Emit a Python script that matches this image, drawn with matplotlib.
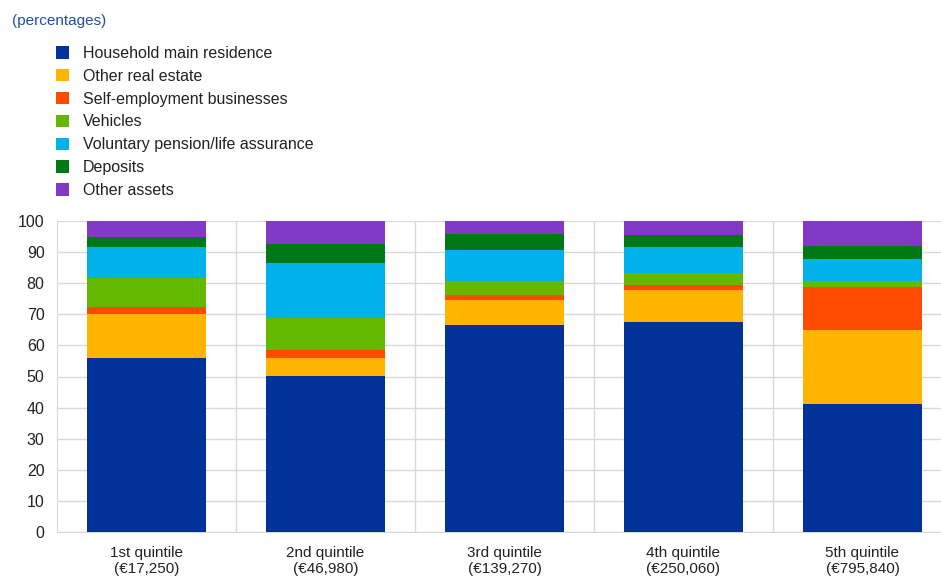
import matplotlib
matplotlib.use("Agg")
import matplotlib.pyplot as plt
import numpy as np

plt.rcParams['font.family'] = ['Liberation Sans', 'DejaVu Sans']

# quintile labels
quintiles = ["1st quintile\n(€17,250)", "2nd quintile\n(€46,980)", "3rd quintile\n(€139,270)",
             "4th quintile\n(€250,060)", "5th quintile\n(€795,840)"]

# shares of assets (percentages)
main_residence = [55.9, 50.3, 66.5, 67.5, 41.1]
other_real_estate = [14.2, 5.6, 8.2, 10.2, 23.9]
self_employment = [2.2, 2.5, 1.6, 1.8, 13.9]
vehicles = [9.3, 10.5, 4.5, 3.7, 1.9]
pension = [10.0, 17.6, 10.0, 8.5, 6.9]
deposits = [3.3, 6.1, 5.1, 3.7, 4.4]
other_assets = [5.1, 7.4, 4.1, 4.6, 7.9]

labels = ["Household main residence", "Other real estate", "Self-employment businesses",
          "Vehicles", "Voluntary pension/life assurance", "Deposits", "Other assets"]
colours = ["#003299", "#FFB400", "#FF4B00", "#65B800", "#00B1EA", "#007816", "#8139C6"]
series = [main_residence, other_real_estate, self_employment, vehicles, pension, deposits, other_assets]

fig = plt.figure(figsize=(9.41, 5.78), dpi=100)
ax = fig.add_axes([57/941, 46/578, 1 - 57/941, (532-221)/578])

x = np.arange(len(quintiles))
bottom = np.zeros(len(quintiles))
handles = []
for vals, col, lab in zip(series, colours, labels):
    b = ax.bar(x, vals, 0.665, bottom=bottom, color=col, label=lab, zorder=3)
    handles.append(b)
    bottom += np.array(vals)

ax.set_ylim(0, 100)
ax.set_xlim(-0.5, (941 - 57) / 179 - 0.5)
ax.set_yticks(range(0, 101, 10))
ax.set_xticks(x)
ax.set_xticklabels(quintiles, fontsize=11, linespacing=1.15)
ax.tick_params(axis='y', labelsize=11.5, length=0, pad=9, colors='#222222')
ax.tick_params(axis='x', length=0, pad=10, colors='#222222')

ax.grid(axis='y', color='#d9d9d9', linewidth=1, zorder=0)
for xv in np.arange(0.5, 4.5, 1):
    ax.axvline(xv, color='#d9d9d9', linewidth=1, zorder=0)
for s in ['top', 'right']:
    ax.spines[s].set_visible(False)
ax.spines['left'].set_color('#d9d9d9')
ax.spines['bottom'].set_color('#d9d9d9')

fig.text(12/941, 1 - 21/578, "(percentages)", color='#1f4fa8', fontsize=11, va='center')

fig.legend(handles=handles, labels=labels, loc='upper left', bbox_to_anchor=(56/941, 1 - 46/578),
           frameon=False, fontsize=11.5, handlelength=0.8, handleheight=0.8,
           handletextpad=0.9, labelspacing=0.49, borderpad=0, borderaxespad=0,
           labelcolor='#222222')

fig.savefig("out.png", dpi=100)
